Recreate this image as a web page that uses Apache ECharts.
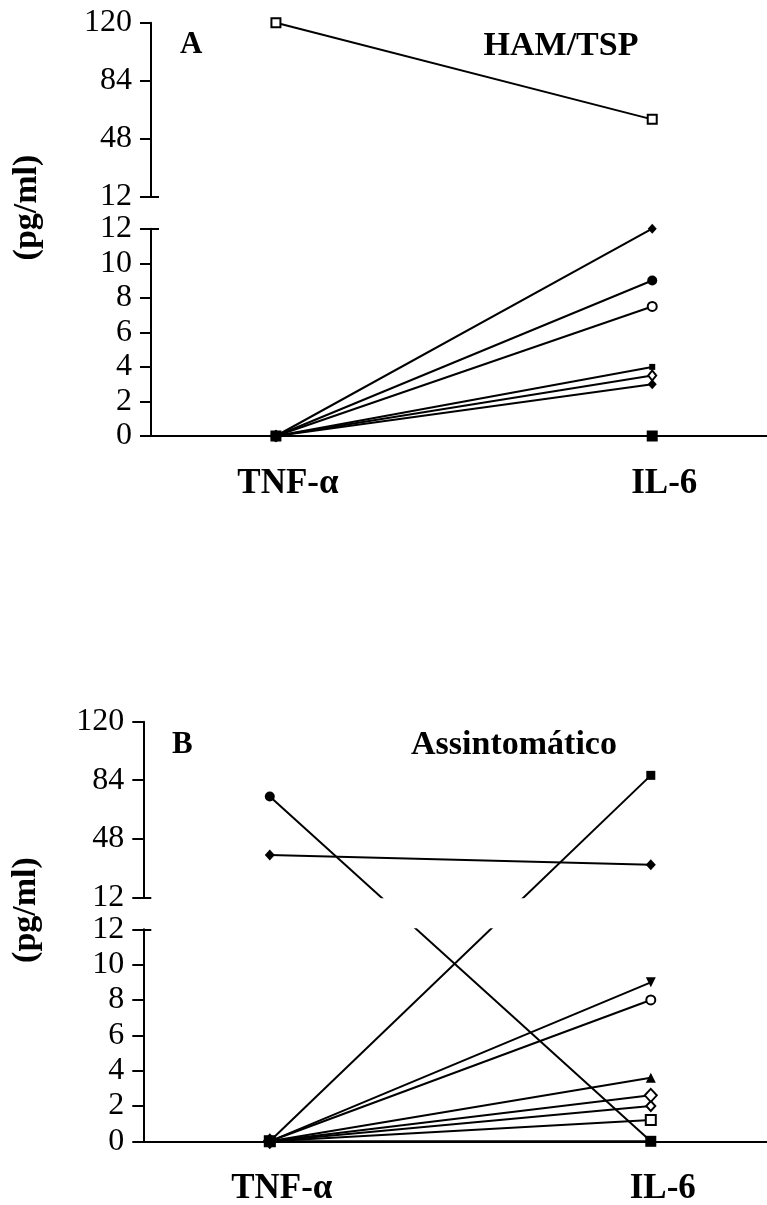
<!DOCTYPE html>
<html>
<head>
<meta charset="utf-8">
<title>TNF-α / IL-6</title>
<script src="https://cdn.jsdelivr.net/npm/echarts@6.0.0/dist/echarts.min.js"></script>
<style>
  html, body { margin: 0; padding: 0; background: #fff; }
  #chart { width: 767px; height: 1205px; }
</style>
</head>
<body>
<div id="chart"></div>
<script>
// categories on the x axis
var categories = ['TNF-α', 'IL-6'];
var upperTicks = [12, 48, 84, 120];
var breakValue = 12;

// panel A - HAM/TSP (pg/ml), [TNF-α, IL-6]
var hamOpenSquare = [120, 60];
var hamDiamondTop = [0, 12];
var hamCircle = [0, 9];
var hamOpenCircle = [0, 7.5];
var hamSmallSquare = [0, 4];
var hamOpenDiamond = [0, 3.5];
var hamDiamond = [0, 3];
var hamSquare = [0, 0];

// panel B - Assintomático (pg/ml), [TNF-α, IL-6]
var asCircle = [74, 0];
var asDiamond = [38, 32];
var asSquareHigh = [0, 87];
var asTriangleDown = [0, 9];
var asOpenCircle = [0, 8];
var asTriangle = [0, 3.6];
var asOpenDiamondBig = [0, 2.6];
var asOpenDiamond = [0, 2];
var asOpenSquare = [0, 1.2];
var asSquare = [0, 0];

var serif = '"Liberation Serif", "Times New Roman", "DejaVu Serif", serif';

var panels = [
  {
    letter: 'A', title: 'HAM/TSP',
    left: 151, upperTop: 22.7, upperBottom: 196.7, lowerTop: 228.7, lowerBottom: 436,
    letterPos: [180, 45], titlePos: [561, 46.5], unitPos: [27.5, 207.5],
    series: [
      { data: hamOpenSquare, symbol: 'emptyRect', size: 9 },
      { data: hamOpenCircle, symbol: 'emptyCircle', size: 9 },
      { data: hamOpenDiamond, symbol: 'emptyDiamond', size: [8, 10] },
      { data: hamDiamondTop, symbol: 'diamond', size: [9, 10] },
      { data: hamCircle, symbol: 'circle', size: 10 },
      { data: hamSmallSquare, symbol: 'rect', size: 6 },
      { data: hamDiamond, symbol: 'diamond', size: [9, 10] },
      { data: hamSquare, symbol: 'rect', size: 11 }
    ]
  },
  {
    letter: 'B', title: 'Assintomático',
    left: 143.3, upperTop: 721.7, upperBottom: 897.3, lowerTop: 929.3, lowerBottom: 1141.3,
    letterPos: [172, 745], titlePos: [514, 745.5], unitPos: [26.5, 910],
    series: [
      { data: asOpenSquare, symbol: 'emptyRect', size: 10 },
      { data: asOpenDiamond, symbol: 'emptyDiamond', size: [9, 10] },
      { data: asOpenDiamondBig, symbol: 'emptyDiamond', size: [12, 13] },
      { data: asOpenCircle, symbol: 'emptyCircle', size: 9 },
      { data: asSquare, symbol: 'rect', size: 11 },
      { data: asSquareHigh, symbol: 'rect', size: 9 },
      { data: asTriangle, symbol: 'triangle', size: 10 },
      { data: asTriangleDown, symbol: 'triangle', size: 10, rotate: 180 },
      { data: asDiamond, symbol: 'diamond', size: [10, 11] },
      { data: asCircle, symbol: 'circle', size: 10 }
    ]
  }
];

var grids = [], xAxes = [], yAxes = [], series = [], graphics = [];

function axisX(gridIndex, visible) {
  return {
    type: 'value', gridIndex: gridIndex, min: 0.668, max: 2.305, show: visible,
    axisLine: { show: true, onZero: false, lineStyle: { color: '#000', width: 2 } },
    axisTick: { show: false },
    splitLine: { show: false },
    axisLabel: {
      customValues: [1, 2],
      formatter: function (v) { return categories[Math.round(v) - 1]; },
      color: '#000', fontFamily: serif, fontWeight: 'bold', fontSize: 35,
      margin: 30, padding: [0, 0, 0, 24]
    }
  };
}

function axesY(gridIndex, min, max, ticks) {
  var main = {
    type: 'value', gridIndex: gridIndex, position: 'left', min: min, max: max,
    axisLine: { show: true, lineStyle: { color: '#000', width: 2 } },
    axisTick: { show: true, length: 11, lineStyle: { color: '#000', width: 2 } },
    axisLabel: { color: '#000', fontFamily: serif, fontSize: 32, margin: 19 },
    splitLine: { show: false }
  };
  if (ticks) {
    main.axisTick.customValues = ticks;
    main.axisLabel.customValues = ticks;
  } else {
    main.interval = 2;
  }
  // short inward tick that marks the end of each axis segment at the break
  var breakTick = {
    type: 'value', gridIndex: gridIndex, position: 'left', min: min, max: max,
    axisLine: { show: false },
    axisLabel: { show: false },
    splitLine: { show: false },
    axisTick: { show: true, inside: true, length: 8, customValues: [breakValue],
      lineStyle: { color: '#000', width: 2 } }
  };
  yAxes.push(main, breakTick);
}

function addLine(gridIndex, points, def) {
  series.push({
    type: 'line', xAxisIndex: gridIndex, yAxisIndex: gridIndex * 2,
    data: points, clip: true, animation: false, silent: true,
    symbol: def.symbol, symbolSize: def.size, symbolRotate: def.rotate || 0,
    showAllSymbol: true,
    itemStyle: { color: '#000', borderColor: '#000',
      borderWidth: def.symbol.indexOf('empty') === 0 ? 2 : 0 },
    lineStyle: { color: '#000', width: 2 }
  });
}

panels.forEach(function (p) {
  var gu = grids.length, gl = gu + 1;
  grids.push(
    { left: p.left, right: 0, top: p.upperTop, height: p.upperBottom - p.upperTop, outerBoundsMode: 'none' },
    { left: p.left, right: 0, top: p.lowerTop, height: p.lowerBottom - p.lowerTop, outerBoundsMode: 'none' }
  );
  xAxes.push(axisX(gu, false), axisX(gl, true));
  axesY(gu, breakValue, 120, upperTicks);
  axesY(gl, 0, breakValue, null);

  // the line keeps one straight course across the break; its part in the gap is hidden
  var pxU = (p.upperBottom - p.upperTop) / (120 - breakValue);
  var pxL = (p.lowerBottom - p.lowerTop) / breakValue;
  var gap = p.lowerTop - p.upperBottom;
  function toUpper(v) { return breakValue - (gap + (breakValue - v) * pxL) / pxU; }
  function toLower(v) { return breakValue + (gap + (v - breakValue) * pxU) / pxL; }

  p.series.forEach(function (def) {
    var a = def.data[0], b = def.data[1];
    if (a >= breakValue && b >= breakValue) {
      addLine(gu, [[1, a], [2, b]], def);
    } else if (a <= breakValue && b <= breakValue) {
      addLine(gl, [[1, a], [2, b]], def);
    } else {
      addLine(gu, def.data.map(function (v, i) {
        return v >= breakValue ? [i + 1, v] : { value: [i + 1, toUpper(v)], symbol: 'none' };
      }), def);
      addLine(gl, def.data.map(function (v, i) {
        return v <= breakValue ? [i + 1, v] : { value: [i + 1, toLower(v)], symbol: 'none' };
      }), def);
    }
  });

  graphics.push(
    { type: 'text', x: p.letterPos[0], y: p.letterPos[1],
      style: { text: p.letter, font: 'bold 31px ' + serif, fill: '#000',
        textAlign: 'left', textVerticalAlign: 'middle' } },
    { type: 'text', x: p.titlePos[0], y: p.titlePos[1],
      style: { text: p.title, font: 'bold 34px ' + serif, fill: '#000',
        textAlign: 'center', textVerticalAlign: 'middle' } },
    { type: 'text', x: p.unitPos[0], y: p.unitPos[1], rotation: Math.PI / 2,
      style: { text: '(pg/ml)', font: 'bold 34px ' + serif, fill: '#000',
        textAlign: 'center', textVerticalAlign: 'middle' } }
  );
});

var chart = echarts.init(document.getElementById('chart'), null, { renderer: 'canvas' });
chart.setOption({
  backgroundColor: '#fff',
  animation: false,
  grid: grids,
  xAxis: xAxes,
  yAxis: yAxes,
  series: series,
  graphic: graphics
});
</script>
</body>
</html>
